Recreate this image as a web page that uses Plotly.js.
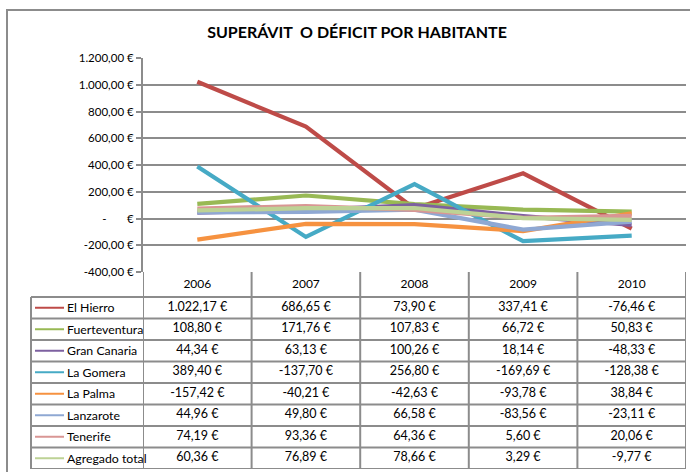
<!DOCTYPE html>
<html>
<head>
<meta charset="utf-8">
<script src="https://cdn.plot.ly/plotly-3.0.1.min.js"></script>
<style>html,body{margin:0;padding:0;background:#fff;}#chart{width:690px;height:472px;}</style>
</head>
<body>
<div id="chart"></div>
<script>
// ---- data ----
var years = ["2006", "2007", "2008", "2009", "2010"];
var seriesNames = ["El Hierro", "Fuerteventura", "Gran Canaria", "La Gomera", "La Palma", "Lanzarote", "Tenerife", "Agregado total"];
var elHierro      = [1022.17, 686.65, 73.90, 337.41, -76.46];
var fuerteventura = [108.80, 171.76, 107.83, 66.72, 50.83];
var granCanaria   = [44.34, 63.13, 100.26, 18.14, -48.33];
var laGomera      = [389.40, -137.70, 256.80, -169.69, -128.38];
var laPalma       = [-157.42, -40.21, -42.63, -93.78, 38.84];
var lanzarote     = [44.96, 49.80, 66.58, -83.56, -23.11];
var tenerife      = [74.19, 93.36, 64.36, 5.60, 20.06];
var agregado      = [60.36, 76.89, 78.66, 3.29, -9.77];
var seriesValues = [elHierro, fuerteventura, granCanaria, laGomera, laPalma, lanzarote, tenerife, agregado];
var colors = ["#BE4B48", "#98B954", "#7D60A0", "#46AAC5", "#F69240", "#8FA8D3", "#D99694", "#BDD295"];
var yTickVals = [-400, -200, 0, 200, 400, 600, 800, 1000, 1200];
var yTickText = ["-400,00 €", "-200,00 €", "-\u00a0\u00a0\u00a0\u00a0\u00a0\u00a0\u00a0€", "200,00 €", "400,00 €", "600,00 €", "800,00 €", "1.000,00 €", "1.200,00 €"];
var titleText = "SUPERÁVIT \u00a0O DÉFICIT POR HABITANTE";

// ---- helpers ----
function fmtEuro(v) {
  var neg = v < 0;
  var s = Math.abs(v).toFixed(2).split(".");
  var ip = s[0].replace(/\B(?=(\d{3})+(?!\d))/g, ".");
  return (neg ? "-" : "") + ip + "," + s[1] + " €";
}

var W = 690, H = 472;
function px(x) { return x / W; }
function py(y) { return 1 - y / H; }

var FONT = "Lato, 'Open Sans', sans-serif";
var GRID = "#8c8c8c";
var headerH = 25 / 21.5; // header row height in row units

var traces = [];
// chart lines
seriesNames.forEach(function (n, i) {
  traces.push({
    type: "scatter", mode: "lines", name: n,
    x: years, y: seriesValues[i],
    xaxis: "x", yaxis: "y",
    line: { color: colors[i], width: 4.2 },
    hoverinfo: "skip", cliponaxis: false
  });
});

// table: header years
traces.push({
  type: "scatter", mode: "text",
  x: years, y: years.map(function () { return -0.5 - headerH / 2; }),
  text: years, xaxis: "x", yaxis: "y2",
  textfont: { family: FONT, size: 12, color: "#000" },
  hoverinfo: "skip", cliponaxis: false
});
// table: values
seriesNames.forEach(function (n, i) {
  traces.push({
    type: "scatter", mode: "text",
    x: years, y: years.map(function () { return i; }),
    text: seriesValues[i].map(fmtEuro),
    xaxis: "x", yaxis: "y2",
    textfont: { family: FONT, size: 12.5, color: "#000" },
    hoverinfo: "skip", cliponaxis: false
  });
});

var shapes = [];
var annotations = [];
// outer chart border
shapes.push({ type: "rect", xref: "paper", yref: "paper", x0: px(7), x1: 1.02, y0: -0.02, y1: py(10),
  line: { color: GRID, width: 2 }, fillcolor: "rgba(0,0,0,0)" });

var nRows = seriesNames.length;
// horizontal lines of table body
for (var r = 0; r <= nRows; r++) {
  shapes.push({ type: "line", xref: "paper", yref: "y2", x0: px(31), x1: px(686), y0: r - 0.5, y1: r - 0.5,
    line: { color: GRID, width: 2 } });
}
// vertical lines at column borders (header + body)
for (var c = 0; c <= years.length; c++) {
  shapes.push({ type: "line", xref: "x", yref: "y2", x0: c - 0.5, x1: c - 0.5, y0: -0.5 - headerH, y1: nRows - 0.5,
    line: { color: GRID, width: 2 } });
}
// legend column left border
shapes.push({ type: "line", xref: "paper", yref: "y2", x0: px(31), x1: px(31), y0: -0.5, y1: nRows - 0.5,
  line: { color: GRID, width: 2 } });

// legend samples and names
seriesNames.forEach(function (n, i) {
  shapes.push({ type: "line", xref: "paper", yref: "y2", x0: px(35), x1: px(64), y0: i, y1: i,
    line: { color: colors[i], width: 2 } });
  annotations.push({ xref: "paper", yref: "y2", x: px(65), y: i, text: n, showarrow: false,
    xanchor: "left", yanchor: "middle", font: { family: FONT, size: 12.3, color: "#000" } });
});

var layout = {
  width: W, height: H,
  margin: { l: 0, r: 0, t: 0, b: 0 },
  paper_bgcolor: "#fff", plot_bgcolor: "rgba(0,0,0,0)",
  showlegend: false,
  title: { text: "<b>" + titleText + "</b>", x: px(357), xanchor: "center", y: py(32), yanchor: "middle",
    font: { family: FONT, size: 16, color: "#000", weight: 900 } },
  xaxis: { domain: [px(143), px(686)], type: "category", range: [-0.5, 4.5],
    showgrid: false, zeroline: false, showline: false, showticklabels: false, ticks: "", anchor: "y" },
  yaxis: { domain: [py(272), py(58)], range: [-400, 1200], tickvals: yTickVals, ticktext: yTickText,
    showgrid: true, gridcolor: GRID, gridwidth: 2, zeroline: false,
    showline: true, linecolor: GRID, linewidth: 2, ticks: "outside", ticklen: 5, tickwidth: 2, tickcolor: GRID,
    tickfont: { family: FONT, size: 11.5, color: "#000" }, anchor: "x" },
  yaxis2: { domain: [py(469), py(272)], range: [nRows - 0.5, -0.5 - headerH],
    showgrid: false, zeroline: false, showline: false, showticklabels: false, ticks: "", anchor: "x" },
  shapes: shapes,
  annotations: annotations
};

Plotly.newPlot("chart", traces, layout, { staticPlot: true, displayModeBar: false });
</script>
</body>
</html>
